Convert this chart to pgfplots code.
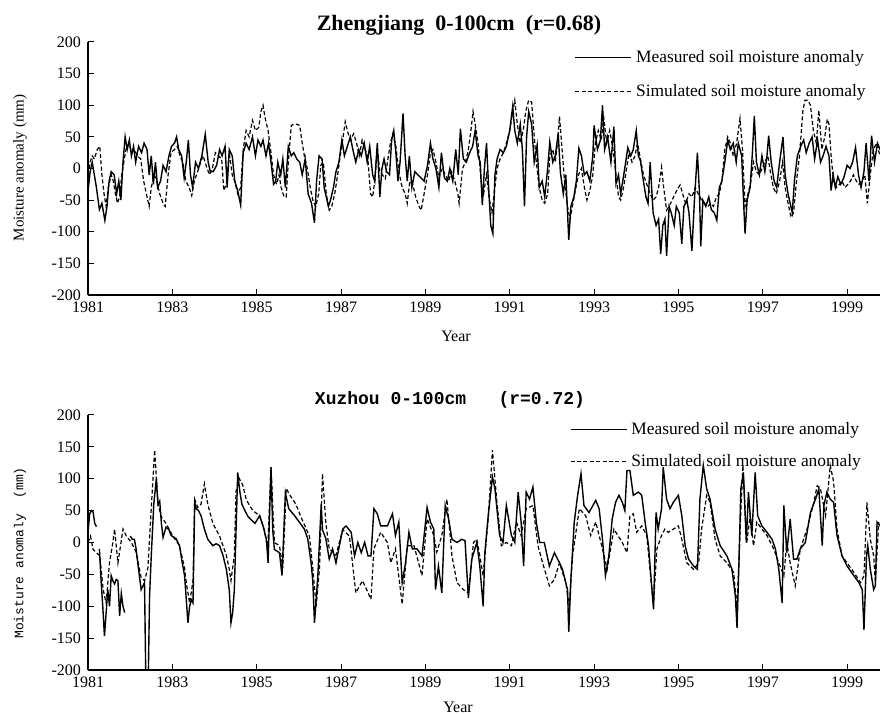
\documentclass[border=0pt]{standalone}
\usepackage{fontspec}
\setmainfont{Liberation Serif}
\setmonofont{Liberation Mono}
\usepackage{pgfplots}
\usepackage{pgfplotstable}
\pgfplotsset{compat=1.18}

% top panel: Zhengjiang, measured and simulated
\pgfplotstableread{
yr v
1981.00 -37
1981.05 -5
1981.10 10
1981.15 -10
1981.20 -30
1981.27 -65
1981.33 -55
1981.40 -82
1981.45 -60
1981.50 -20
1981.55 -5
1981.62 -10
1981.68 -40
1981.73 -20
1981.78 -50
1981.83 10
1981.88 50
1981.93 30
1981.98 45
1982.03 20
1982.08 35
1982.13 10
1982.20 35
1982.27 25
1982.33 40
1982.40 30
1982.45 -10
1982.50 20
1982.55 -25
1982.60 10
1982.65 -30
1982.72 -20
1982.78 5
1982.85 -5
1982.92 20
1982.98 35
1983.05 40
1983.10 50
1983.15 30
1983.22 20
1983.28 -15
1983.33 10
1983.38 45
1983.43 -10
1983.48 -30
1983.55 10
1983.62 0
1983.70 20
1983.78 54
1983.85 10
1983.90 -5
1983.97 -5
1984.05 5
1984.12 30
1984.18 20
1984.25 35
1984.30 -30
1984.35 30
1984.42 20
1984.48 -20
1984.55 -35
1984.62 -58
1984.68 25
1984.75 40
1984.82 30
1984.90 50
1984.97 20
1985.03 45
1985.10 35
1985.15 45
1985.22 20
1985.28 40
1985.35 5
1985.40 -25
1985.45 -20
1985.50 10
1985.57 -10
1985.62 15
1985.68 -30
1985.75 35
1985.82 20
1985.88 25
1985.95 15
1986.02 10
1986.08 -10
1986.15 15
1986.22 -40
1986.30 -55
1986.37 -86
1986.42 -20
1986.48 20
1986.55 15
1986.60 -30
1986.65 -45
1986.70 -60
1986.75 -50
1986.82 -30
1986.88 -5
1986.95 10
1987.02 45
1987.08 20
1987.15 35
1987.22 50
1987.28 30
1987.35 10
1987.42 30
1987.48 20
1987.55 40
1987.62 10
1987.68 35
1987.75 -10
1987.80 -20
1987.86 40
1987.92 -45
1987.97 0
1988.02 15
1988.08 -5
1988.15 -10
1988.20 45
1988.25 60
1988.30 25
1988.35 -20
1988.40 10
1988.47 87
1988.52 20
1988.57 -20
1988.62 20
1988.68 -30
1988.75 -5
1988.82 -10
1988.90 -15
1988.97 -20
1989.05 5
1989.12 40
1989.18 15
1989.25 0
1989.32 -30
1989.38 25
1989.45 -15
1989.52 -20
1989.58 0
1989.65 -20
1989.72 30
1989.78 -10
1989.83 63
1989.90 15
1989.97 10
1990.05 25
1990.12 35
1990.18 60
1990.25 20
1990.30 10
1990.35 -58
1990.40 0
1990.45 40
1990.50 -30
1990.55 -90
1990.60 -103
1990.65 -10
1990.70 15
1990.77 30
1990.85 25
1990.92 35
1991.00 60
1991.07 98
1991.12 60
1991.18 40
1991.25 70
1991.30 30
1991.35 -60
1991.40 50
1991.45 90
1991.52 70
1991.58 10
1991.65 37
1991.70 -30
1991.77 -20
1991.83 -45
1991.90 0
1991.95 42
1992.02 10
1992.08 20
1992.15 55
1992.20 -5
1992.27 -40
1992.33 -10
1992.40 -113
1992.45 -60
1992.52 -45
1992.58 -20
1992.64 32
1992.70 20
1992.77 -10
1992.83 -5
1992.90 -20
1992.97 20
1993.00 68
1993.08 30
1993.15 45
1993.20 100
1993.25 30
1993.32 50
1993.40 10
1993.47 66
1993.52 -24
1993.58 -10
1993.63 -40
1993.68 -20
1993.75 10
1993.80 33
1993.87 20
1993.93 30
1994.00 60
1994.05 20
1994.10 12
1994.17 -20
1994.23 -45
1994.28 -55
1994.33 10
1994.40 -70
1994.47 -90
1994.53 -80
1994.58 -135
1994.63 -90
1994.68 -80
1994.72 -138
1994.78 -60
1994.83 -70
1994.90 -90
1994.95 -60
1995.02 -70
1995.08 -119
1995.13 -60
1995.20 -50
1995.25 -70
1995.32 -130
1995.38 -50
1995.45 25
1995.50 -40
1995.53 -123
1995.58 -50
1995.65 -60
1995.72 -45
1995.78 -65
1995.85 -70
1995.91 -82
1995.97 -30
1996.03 -20
1996.10 10
1996.17 45
1996.23 30
1996.30 40
1996.37 10
1996.42 40
1996.50 20
1996.55 -60
1996.58 -103
1996.63 -50
1996.70 -30
1996.75 20
1996.80 83
1996.85 10
1996.92 -10
1996.98 20
1997.05 -5
1997.10 20
1997.14 52
1997.20 10
1997.27 -20
1997.33 -30
1997.40 10
1997.48 50
1997.53 -10
1997.60 -40
1997.65 -55
1997.70 -70
1997.75 -20
1997.82 20
1997.90 35
1997.97 45
1998.03 25
1998.10 40
1998.17 50
1998.23 15
1998.30 45
1998.37 10
1998.43 20
1998.50 35
1998.57 20
1998.62 -35
1998.67 -10
1998.72 -30
1998.78 -13
1998.85 -25
1998.92 -15
1999.00 5
1999.07 0
1999.13 10
1999.20 33
1999.27 -10
1999.33 -30
1999.40 -5
1999.45 40
1999.52 -20
1999.58 52
1999.65 10
1999.72 40
1999.78 30
}\zjmeas

\pgfplotstableread{
yr v
1981.00 -10
1981.05 10
1981.10 20
1981.15 15
1981.22 30
1981.28 35
1981.33 -10
1981.38 -40
1981.43 -60
1981.48 -30
1981.55 -10
1981.60 -20
1981.65 -40
1981.70 -55
1981.75 -45
1981.80 -10
1981.85 10
1981.90 30
1981.97 40
1982.03 25
1982.10 30
1982.17 20
1982.25 15
1982.32 -20
1982.40 -45
1982.45 -60
1982.50 -30
1982.57 -10
1982.63 -20
1982.70 -40
1982.78 -55
1982.83 -60
1982.90 -10
1982.97 25
1983.05 30
1983.12 35
1983.18 20
1983.25 10
1983.32 -20
1983.40 -30
1983.46 -43
1983.52 -20
1983.60 -5
1983.67 10
1983.73 20
1983.80 5
1983.88 -10
1983.95 0
1984.02 25
1984.10 20
1984.17 15
1984.22 -35
1984.28 -25
1984.35 25
1984.42 -10
1984.48 -20
1984.55 -40
1984.62 -30
1984.68 30
1984.75 60
1984.82 50
1984.90 76
1984.97 60
1985.05 65
1985.10 90
1985.15 100
1985.20 80
1985.27 60
1985.33 30
1985.40 -10
1985.47 -25
1985.53 -10
1985.58 -30
1985.65 -45
1985.70 -45
1985.75 10
1985.82 68
1985.88 70
1985.95 70
1986.02 68
1986.08 40
1986.13 20
1986.20 0
1986.27 -30
1986.33 -50
1986.40 -60
1986.47 -40
1986.52 5
1986.58 10
1986.65 -40
1986.72 -66
1986.78 -60
1986.85 -40
1986.92 -10
1986.98 20
1987.05 50
1987.10 74
1987.15 60
1987.22 45
1987.30 55
1987.37 40
1987.43 20
1987.50 45
1987.57 30
1987.63 20
1987.70 -40
1987.75 -45
1987.80 -20
1987.86 30
1987.92 -5
1987.98 -10
1988.05 -16
1988.10 10
1988.17 40
1988.23 55
1988.30 35
1988.37 -5
1988.45 -30
1988.52 -40
1988.57 -55
1988.63 -20
1988.70 -25
1988.77 -45
1988.85 -60
1988.90 -66
1988.97 -40
1989.05 -10
1989.12 25
1989.18 30
1989.25 10
1989.32 -15
1989.40 0
1989.47 -10
1989.55 -20
1989.62 -5
1989.70 -20
1989.77 -40
1989.80 -55
1989.88 0
1989.95 10
1990.02 30
1990.08 60
1990.13 90
1990.18 70
1990.25 40
1990.32 -20
1990.38 -40
1990.45 -10
1990.52 -50
1990.58 -70
1990.63 -40
1990.70 0
1990.77 15
1990.85 25
1990.92 40
1991.00 60
1991.07 90
1991.12 108
1991.18 70
1991.25 40
1991.32 60
1991.38 90
1991.45 108
1991.52 105
1991.57 60
1991.63 10
1991.70 -30
1991.77 -50
1991.83 -55
1991.90 -40
1991.95 20
1992.02 30
1992.08 10
1992.13 40
1992.18 82
1992.23 40
1992.30 -20
1992.37 -60
1992.43 -80
1992.50 -55
1992.57 -30
1992.63 -10
1992.70 0
1992.77 -30
1992.83 -50
1992.90 -35
1992.97 -10
1993.03 40
1993.10 60
1993.17 45
1993.23 80
1993.30 40
1993.37 60
1993.45 30
1993.52 -10
1993.58 -45
1993.63 -50
1993.70 -30
1993.77 0
1993.83 25
1993.90 10
1993.97 20
1994.03 40
1994.10 15
1994.17 -10
1994.25 -25
1994.33 -40
1994.40 -50
1994.47 -45
1994.53 -30
1994.60 2
1994.65 -30
1994.72 -66
1994.78 -60
1994.85 -50
1994.92 -40
1995.00 -30
1995.04 -26
1995.10 -40
1995.17 -55
1995.25 -40
1995.32 -45
1995.40 -30
1995.47 -40
1995.55 -50
1995.62 -55
1995.70 -60
1995.77 -55
1995.83 -60
1995.90 -45
1995.97 -40
1996.03 -20
1996.10 30
1996.17 50
1996.23 40
1996.30 20
1996.38 40
1996.46 79
1996.52 30
1996.58 -60
1996.65 -40
1996.72 -20
1996.78 10
1996.85 -5
1996.92 -10
1996.98 0
1997.05 10
1997.12 20
1997.18 -5
1997.25 -30
1997.32 -40
1997.40 -20
1997.47 10
1997.53 -30
1997.60 -55
1997.67 -77
1997.73 -70
1997.80 -20
1997.87 20
1997.95 90
1998.00 108
1998.07 108
1998.13 100
1998.20 60
1998.27 40
1998.33 92
1998.40 30
1998.47 50
1998.53 78
1998.57 70
1998.62 20
1998.68 -20
1998.75 -30
1998.82 -25
1998.88 -20
1998.95 -30
1999.02 -25
1999.08 -20
1999.15 -10
1999.22 -20
1999.28 -25
1999.35 -20
1999.42 -10
1999.48 -55
1999.55 -10
1999.62 30
1999.70 40
1999.78 20
}\zjsim

% bottom panel: Xuzhou, measured (with gaps) and simulated
\pgfplotstableread{
yr v
1981.00 16
1981.04 45
1981.08 50
1981.12 48
1981.16 30
1981.20 25
1981.23 nan
1981.27 -10
1981.31 -60
1981.35 -100
1981.39 -147
1981.43 -110
1981.47 -74
1981.51 -100
1981.55 -52
1981.59 -60
1981.63 -65
1981.67 -58
1981.71 -60
1981.75 -115
1981.79 -80
1981.83 -100
1981.87 -110
1981.93 nan
1982.00 10
1982.05 5
1982.10 5
1982.14 -10
1982.18 -32
1982.26 -74
1982.34 -63
1982.37 -210
1982.43 -210
1982.46 -84
1982.50 -21
1982.56 60
1982.62 100
1982.66 60
1982.70 65
1982.74 30
1982.78 8
1982.85 24
1982.92 20
1982.97 11
1983.09 6
1983.17 -5
1983.23 -30
1983.29 -52
1983.37 -126
1983.41 -100
1983.45 -90
1983.49 -95
1983.53 63
1983.57 53
1983.62 50
1983.68 42
1983.76 21
1983.84 5
1983.96 -5
1984.04 -2
1984.12 -5
1984.20 -20
1984.28 -42
1984.35 -74
1984.39 -126
1984.43 -110
1984.47 -74
1984.55 110
1984.60 80
1984.65 60
1984.72 50
1984.80 40
1984.88 35
1984.96 30
1985.07 42
1985.15 26
1985.23 5
1985.27 -32
1985.34 118
1985.38 20
1985.42 -11
1985.54 -16
1985.60 -52
1985.68 78
1985.76 53
1985.90 42
1986.01 32
1986.13 21
1986.21 6
1986.29 -32
1986.33 -60
1986.37 -126
1986.41 -90
1986.45 -52
1986.53 60
1986.56 20
1986.64 6
1986.72 -26
1986.80 -10
1986.88 -32
1987.04 21
1987.12 26
1987.24 16
1987.32 -21
1987.40 0
1987.48 -16
1987.56 0
1987.64 -21
1987.71 -21
1987.78 53
1987.86 45
1987.94 26
1988.10 26
1988.22 45
1988.29 11
1988.37 32
1988.45 -63
1988.53 -32
1988.61 16
1988.69 -10
1988.80 -10
1988.92 -21
1989.04 55
1989.12 32
1989.20 21
1989.24 -74
1989.31 -37
1989.39 -79
1989.47 58
1989.55 37
1989.63 5
1989.75 0
1989.86 5
1989.94 3
1990.02 -87
1990.10 -26
1990.22 0
1990.29 -37
1990.37 -100
1990.41 -16
1990.49 42
1990.59 103
1990.65 84
1990.76 11
1990.84 0
1990.92 58
1991.04 11
1991.12 0
1991.20 79
1991.27 32
1991.33 -37
1991.39 79
1991.47 68
1991.55 87
1991.63 32
1991.71 0
1991.82 0
1991.94 -37
1992.06 -16
1992.18 -32
1992.25 -42
1992.37 -74
1992.40 -140
1992.45 -58
1992.53 32
1992.61 74
1992.69 108
1992.76 58
1992.88 47
1993.04 66
1993.12 53
1993.20 5
1993.27 -52
1993.35 -21
1993.43 37
1993.51 63
1993.59 74
1993.67 63
1993.73 50
1993.78 113
1993.85 113
1993.93 74
1994.05 79
1994.13 74
1994.21 32
1994.29 -5
1994.41 -105
1994.47 47
1994.52 21
1994.60 53
1994.64 118
1994.72 68
1994.80 53
1994.88 63
1995.00 74
1995.08 42
1995.16 -5
1995.24 -26
1995.36 -37
1995.45 -42
1995.51 68
1995.59 121
1995.67 84
1995.75 68
1995.87 21
1995.99 -5
1996.15 -21
1996.27 -42
1996.35 -84
1996.39 -134
1996.44 -21
1996.48 84
1996.54 110
1996.61 0
1996.66 79
1996.74 11
1996.82 110
1996.88 42
1996.98 26
1997.10 16
1997.22 5
1997.30 -10
1997.38 -42
1997.46 -95
1997.50 58
1997.57 -16
1997.65 37
1997.73 -26
1997.81 -26
1997.89 -10
1998.01 0
1998.13 47
1998.25 68
1998.33 84
1998.41 -5
1998.45 58
1998.52 79
1998.60 68
1998.68 63
1998.76 11
1998.88 -21
1999.00 -37
1999.16 -52
1999.28 -63
1999.36 -74
1999.40 -137
1999.46 -21
1999.49 -5
1999.55 -42
1999.63 -74
1999.67 -68
1999.71 32
1999.78 26
}\xzmeas

\pgfplotstableread{
yr v
1981.00 0
1981.06 10
1981.12 -11
1981.28 -21
1981.36 -74
1981.43 -95
1981.51 -32
1981.59 0
1981.63 21
1981.71 -32
1981.83 21
1981.91 10
1982.03 0
1982.14 -15
1982.26 -55
1982.34 -60
1982.42 -40
1982.48 30
1982.58 145
1982.66 60
1982.74 40
1982.85 30
1983.01 10
1983.17 -5
1983.29 -40
1983.33 -63
1983.41 -95
1983.49 -60
1983.53 68
1983.60 55
1983.68 60
1983.76 92
1983.84 60
1983.96 30
1984.12 10
1984.28 -20
1984.35 -42
1984.39 -60
1984.47 -20
1984.51 80
1984.59 100
1984.67 90
1984.75 68
1984.83 58
1984.91 50
1985.07 42
1985.18 20
1985.26 -10
1985.34 118
1985.42 0
1985.54 -5
1985.62 -40
1985.70 85
1985.78 75
1985.93 60
1986.05 40
1986.25 10
1986.33 -40
1986.41 -100
1986.49 -40
1986.56 108
1986.64 30
1986.72 -10
1986.88 -20
1987.04 20
1987.20 10
1987.35 -79
1987.51 -60
1987.71 -89
1987.78 -10
1987.94 16
1988.10 0
1988.18 -32
1988.29 -10
1988.45 -97
1988.57 -5
1988.73 -5
1988.92 -52
1989.04 37
1989.20 11
1989.27 -15
1989.39 11
1989.51 68
1989.63 -21
1989.75 -63
1989.90 -74
1990.02 -79
1990.14 0
1990.22 5
1990.37 -52
1990.49 37
1990.59 145
1990.69 68
1990.80 -5
1990.92 0
1991.04 -5
1991.16 32
1991.27 11
1991.39 53
1991.55 58
1991.67 -5
1991.78 -32
1991.94 -68
1992.06 -58
1992.18 -32
1992.33 -63
1992.41 -100
1992.49 -21
1992.65 53
1992.80 42
1992.92 11
1993.04 32
1993.20 -10
1993.31 -42
1993.47 21
1993.67 0
1993.78 -16
1993.85 42
1993.93 45
1994.01 16
1994.13 26
1994.25 11
1994.37 -74
1994.41 -95
1994.49 -10
1994.60 11
1994.68 21
1994.76 16
1994.88 21
1995.00 26
1995.08 5
1995.20 -32
1995.36 -42
1995.48 -32
1995.55 21
1995.67 74
1995.75 63
1995.87 5
1995.99 -21
1996.15 -32
1996.31 -47
1996.39 -105
1996.47 32
1996.53 121
1996.62 0
1996.70 42
1996.78 -5
1996.86 32
1996.98 21
1997.10 11
1997.26 -10
1997.38 -32
1997.50 -52
1997.57 0
1997.65 -32
1997.77 -68
1997.89 -10
1998.05 21
1998.21 63
1998.29 89
1998.37 84
1998.49 42
1998.60 121
1998.68 95
1998.76 21
1998.88 -21
1999.00 -32
1999.16 -47
1999.32 -63
1999.40 -52
1999.47 63
1999.55 5
1999.63 -21
1999.67 -63
1999.75 32
}\xzsim

\pgfplotsset{
  panel/.style={
    scale only axis,
    width=396pt,
    xmin=1981, xmax=1999.78,
    ymin=-200, ymax=200,
    xtick={1981,1983,...,1999},
    ytick={-200,-150,...,200},
    axis x line*=bottom,
    axis y line*=left,
    axis line style={-, line width=0.6pt},
    tick align=inside,
    major tick length=3pt,
    tick style={line width=0.5pt, black},
    /pgf/number format/assume math mode=true,
    /pgf/number format/set thousands separator={},
    ticklabel style={font=\fontsize{8}{9}\selectfont},
    legend cell align=left,
    legend style={draw=none, fill=none, font=\fontsize{8.7}{10}\selectfont,
      row sep=5.5pt, inner sep=0pt},
    legend image code/.code={\draw[#1] (0pt,0pt) -- (28pt,0pt);},
  },
  meas/.style={black, line width=0.7pt},
  simu/.style={black, line width=0.6pt, dash pattern=on 2pt off 1.2pt},
}

\begin{document}
\begin{tikzpicture}
\useasboundingbox (0,0) rectangle (440pt,357.5pt);

\begin{axis}[panel, at={(44pt,210pt)}, anchor=south west, height=126.5pt,
  legend style={at={(0.614,0.985)}, anchor=north west}]
\addplot[meas] table[x=yr, y=v] {\zjmeas};
\addplot[simu] table[x=yr, y=v] {\zjsim};
\legend{Measured soil moisture anomaly, Simulated soil moisture anomaly}
\end{axis}

\begin{axis}[panel, at={(44pt,22.5pt)}, anchor=south west, height=127.5pt,
  unbounded coords=jump,
  legend style={at={(0.608,0.99)}, anchor=north west, row sep=4.5pt}]
\addplot[meas] table[x=yr, y=v] {\xzmeas};
\addplot[simu] table[x=yr, y=v] {\xzsim};
\legend{Measured soil moisture anomaly, Simulated soil moisture anomaly}
\end{axis}

% titles and axis labels
\node[font=\bfseries\fontsize{11}{13}\selectfont] at (229.5pt,345pt) {Zhengjiang\ \ 0-100cm\ \ (r=0.68)};
\node[font=\ttfamily\bfseries\fontsize{9}{11}\selectfont] at (225pt,157.5pt) {Xuzhou 0-100cm\ \ \ (r=0.72)};
\node[font=\fontsize{8}{10}\selectfont] at (228pt,189.5pt) {Year};
\node[font=\fontsize{8}{10}\selectfont] at (229pt,4pt) {Year};
\node[rotate=90, font=\fontsize{7.5}{9}\selectfont] at (10pt,273.5pt) {Moisture anomaly (mm)};
\node[rotate=90, font=\ttfamily\fontsize{6.5}{8}\selectfont] at (10pt,81pt) {Moisture anomaly\ \ (mm)};
\end{tikzpicture}
\end{document}
